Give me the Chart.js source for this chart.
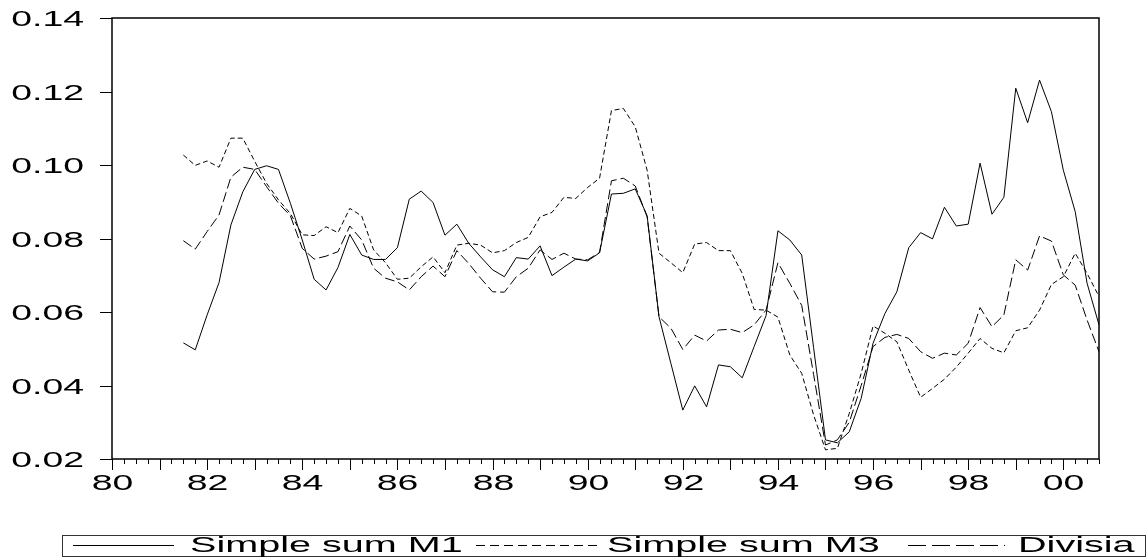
<!DOCTYPE html>
<html>
<head>
<meta charset="utf-8">
<script src="https://cdn.jsdelivr.net/npm/chart.js@4/dist/chart.umd.min.js"></script>
<style>
  html, body { margin: 0; padding: 0; background: #fff; }
  #wrap { width: 1147px; height: 557px; }
</style>
</head>
<body>
<div id="wrap"><canvas id="moneyChart" width="1147" height="557"></canvas></div>
<script>
// Money growth: simple sum M1, simple sum M3 and Divisia (quarterly, 1980Q1-2000Q4 axis)
const firstYear = 1980;
const lastYear = 2000;
const quarters = [];
for (let y = firstYear; y <= lastYear; y++) {
    for (let q = 1; q <= 4; q++) quarters.push(y + 'Q' + q);
}
const xTickLabels = ['80', '82', '84', '86', '88', '90', '92', '94', '96', '98', '00'];
const yTicks = [0.02, 0.04, 0.06, 0.08, 0.10, 0.12, 0.14];

// series start in 1981Q3
const startIndex = 6;
const simpleM1 = [
    0.0516, 0.0497, 0.0592, 0.0680, 0.0837, 0.0927, 0.0988, 0.0998, 0.0988, 0.0896,
    0.0796, 0.0689, 0.0660, 0.0721, 0.0811, 0.0755, 0.0743, 0.0743, 0.0775, 0.0907,
    0.0929, 0.0898, 0.0809, 0.0839, 0.0787, 0.0750, 0.0715, 0.0696, 0.0748, 0.0744,
    0.0780, 0.0699, 0.0722, 0.0744, 0.0739, 0.0761, 0.0921, 0.0923, 0.0935, 0.0862,
    0.0587, 0.0460, 0.0333, 0.0399, 0.0342, 0.0456, 0.0451, 0.0421, 0.0506, 0.0590,
    0.0821, 0.0796, 0.0755, 0.0503, 0.0252, 0.0244, 0.0274, 0.0365, 0.0515, 0.0596,
    0.0655, 0.0775, 0.0816, 0.0799, 0.0885, 0.0834, 0.0839, 0.1005, 0.0866, 0.0912,
    0.1209, 0.1115, 0.1231, 0.1145, 0.0986, 0.0873, 0.0678, 0.0565
];
const simpleM3 = [
    0.1027, 0.0999, 0.1011, 0.0994, 0.1073, 0.1073, 0.1010, 0.0950, 0.0905, 0.0868,
    0.0810, 0.0808, 0.0832, 0.0816, 0.0882, 0.0861, 0.0769, 0.0734, 0.0689, 0.0692,
    0.0723, 0.0750, 0.0707, 0.0782, 0.0787, 0.0782, 0.0761, 0.0767, 0.0789, 0.0803,
    0.0859, 0.0871, 0.0912, 0.0909, 0.0939, 0.0964, 0.1148, 0.1154, 0.1104, 0.0986,
    0.0760, 0.0734, 0.0707, 0.0785, 0.0789, 0.0767, 0.0767, 0.0705, 0.0607, 0.0605,
    0.0586, 0.0483, 0.0433, 0.0320, 0.0225, 0.0229, 0.0324, 0.0433, 0.0562, 0.0542,
    0.0519, 0.0442, 0.0368, 0.0392, 0.0417, 0.0450, 0.0488, 0.0528, 0.0501, 0.0489,
    0.0549, 0.0557, 0.0605, 0.0675, 0.0696, 0.0760, 0.0705, 0.0642
];
const divisia = [
    0.0794, 0.0771, 0.0819, 0.0864, 0.0967, 0.0994, 0.0988, 0.0941, 0.0896, 0.0862,
    0.0773, 0.0744, 0.0752, 0.0764, 0.0834, 0.0796, 0.0719, 0.0692, 0.0682, 0.0660,
    0.0696, 0.0725, 0.0696, 0.0767, 0.0732, 0.0692, 0.0655, 0.0654, 0.0696, 0.0719,
    0.0769, 0.0743, 0.0760, 0.0744, 0.0742, 0.0762, 0.0957, 0.0964, 0.0943, 0.0859,
    0.0587, 0.0556, 0.0498, 0.0537, 0.0521, 0.0551, 0.0553, 0.0544, 0.0565, 0.0605,
    0.0734, 0.0678, 0.0618, 0.0430, 0.0238, 0.0252, 0.0300, 0.0400, 0.0506, 0.0531,
    0.0539, 0.0528, 0.0492, 0.0474, 0.0488, 0.0483, 0.0515, 0.0612, 0.0560, 0.0592,
    0.0742, 0.0714, 0.0807, 0.0793, 0.0701, 0.0673, 0.0578, 0.0492
];

function pad(arr) {
    return new Array(startIndex).fill(null).concat(arr);
}

const FONT = '22px "Liberation Sans", Arial, sans-serif';

// the original's text is stretched sideways, so draw it scaled in x
function wideText(ctx, text, x, y, align, stretch) {
    ctx.save();
    ctx.translate(x, y);
    ctx.scale(stretch, 1);
    ctx.textAlign = align;
    ctx.textBaseline = 'middle';
    ctx.fillText(text, 0, 0);
    ctx.restore();
}

const frameAndAxes = {
    id: 'frameAndAxes',
    afterDraw(chart) {
        const ctx = chart.ctx;
        const area = chart.chartArea;
        const xs = chart.scales.x;
        const ys = chart.scales.y;
        ctx.save();
        ctx.strokeStyle = '#000';
        ctx.fillStyle = '#000';
        ctx.font = FONT;

        // plot frame
        ctx.lineWidth = 1.5;
        ctx.strokeRect(area.left, area.top, area.right - area.left, area.bottom - area.top);

        // y ticks and labels
        ctx.lineWidth = 1;
        yTicks.forEach(v => {
            const y = Math.round(ys.getPixelForValue(v)) + 0.5;
            ctx.beginPath();
            ctx.moveTo(area.left - 12, y);
            ctx.lineTo(area.left, y);
            ctx.stroke();
            wideText(ctx, v.toFixed(2), area.left - 28, y + 1, 'right', 1.7);
        });

        // x ticks: every quarter, longer each year, labels every two years
        quarters.forEach((q, i) => {
            const x = Math.round(xs.getPixelForValue(i)) + 0.5;
            const len = (i % 4 === 0) ? 11 : 5;
            ctx.beginPath();
            ctx.moveTo(x, area.bottom);
            ctx.lineTo(x, area.bottom + len);
            ctx.stroke();
            if (i % 8 === 0) {
                wideText(ctx, xTickLabels[i / 8], x, area.bottom + 25, 'center', 1.7);
            }
        });

        // legend box
        const boxTop = 535, boxH = 21, lineY = 545.5;
        ctx.lineWidth = 1;
        ctx.strokeStyle = '#333';
        ctx.strokeRect(62.5, boxTop + 0.5, 1083, boxH);
        const items = [
            { x1: 73, x2: 174, tx: 190, dash: [] },
            { x1: 476, x2: 597, tx: 607, dash: [9, 5] },
            { x1: 908, x2: 1005, tx: 1018, dash: [18, 6] }
        ];
        chart.data.datasets.forEach((ds, k) => {
            const it = items[k];
            ctx.strokeStyle = '#000';
            ctx.setLineDash(it.dash);
            ctx.beginPath();
            ctx.moveTo(it.x1, lineY);
            ctx.lineTo(it.x2, lineY);
            ctx.stroke();
            ctx.setLineDash([]);
            wideText(ctx, ds.label, it.tx, lineY + 0.5, 'left', 1.8);
        });
        ctx.restore();
    }
};

const ctx = document.getElementById('moneyChart').getContext('2d');
const moneyChart = new Chart(ctx, {
    type: 'line',
    data: {
        labels: quarters,
        datasets: [{
            label: 'Simple sum M1',
            data: pad(simpleM1),
            borderColor: '#000',
            borderWidth: 1,
            pointRadius: 0,
            tension: 0
        }, {
            label: 'Simple sum M3',
            data: pad(simpleM3),
            borderColor: '#000',
            borderWidth: 1,
            borderDash: [5, 3],
            pointRadius: 0,
            tension: 0
        }, {
            label: 'Divisia',
            data: pad(divisia),
            borderColor: '#000',
            borderWidth: 1,
            borderDash: [10, 4],
            pointRadius: 0,
            tension: 0
        }]
    },
    options: {
        responsive: false,
        animation: false,
        layout: {
            padding: { left: 112, right: 48, top: 18, bottom: 98 }
        },
        plugins: {
            legend: { display: false },
            tooltip: { enabled: false }
        },
        scales: {
            x: {
                type: 'category',
                display: false,
                offset: false
            },
            y: {
                display: false,
                min: 0.02,
                max: 0.14,
                ticks: { stepSize: 0.02 }
            }
        }
    },
    plugins: [frameAndAxes]
});
</script>
</body>
</html>
